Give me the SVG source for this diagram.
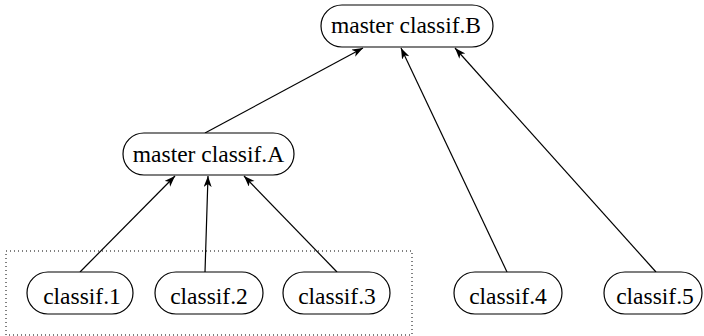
<svg xmlns="http://www.w3.org/2000/svg" width="704" height="336" viewBox="0 0 704 336">
<defs>
<marker id="ah" markerWidth="12" markerHeight="10" refX="11" refY="4" orient="auto" markerUnits="userSpaceOnUse">
<path d="M0,0 L11,4 L0,8 L3,4 z" fill="#000"/>
</marker>
<style>
.box{fill:#fff;stroke:#000;stroke-width:1.2}
.lbl{font-family:'Liberation Serif','Times New Roman',serif;font-size:23.5px;text-anchor:middle;fill:#000}
.edge{stroke:#000;stroke-width:1.2;marker-end:url(#ah)}
</style>
</defs>
<rect x="6" y="251" width="406" height="84" fill="none" stroke="#000" stroke-width="1" stroke-dasharray="1,3"/>
<g id="connectors">
<line class="edge" x1="205" y1="133" x2="363" y2="48"/>
<line class="edge" x1="507" y1="272" x2="401" y2="48"/>
<line class="edge" x1="656" y1="272" x2="455" y2="48"/>
<line class="edge" x1="80" y1="272" x2="175" y2="176"/>
<line class="edge" x1="205" y1="272" x2="208" y2="176"/>
<line class="edge" x1="337" y1="272" x2="244" y2="176"/>
</g>
<g id="masterB"><rect class="box" x="321" y="5" width="172" height="42" rx="21"/><text class="lbl" x="406" y="33">master classif.B</text></g>
<g id="masterA"><rect class="box" x="123" y="133" width="171" height="42" rx="21"/><text class="lbl" x="208.5" y="162">master classif.A</text></g>
<g id="c1"><rect class="box" x="27" y="272" width="106" height="42" rx="21"/><text class="lbl" x="82" y="304">classif.1</text></g>
<g id="c2"><rect class="box" x="155" y="272" width="108" height="42" rx="21"/><text class="lbl" x="209" y="304">classif.2</text></g>
<g id="c3"><rect class="box" x="283" y="272" width="107" height="42" rx="21"/><text class="lbl" x="337" y="304">classif.3</text></g>
<g id="c4"><rect class="box" x="454" y="272" width="108" height="42" rx="21"/><text class="lbl" x="508" y="304">classif.4</text></g>
<g id="c5"><rect class="box" x="604" y="272" width="98" height="42" rx="21"/><text class="lbl" x="655" y="304">classif.5</text></g>
</svg>
